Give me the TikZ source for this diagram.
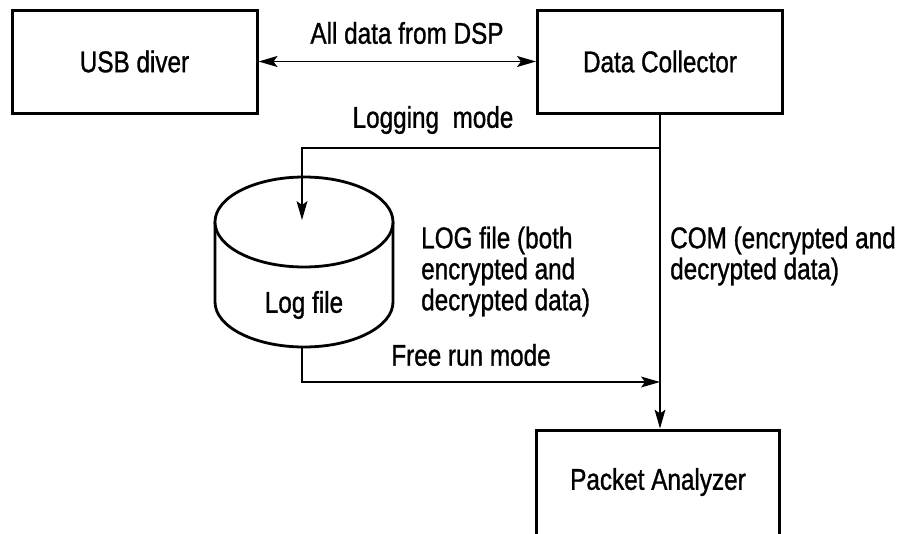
\documentclass[tikz,border=0pt]{standalone}
\usepackage{fontspec}
\setmainfont{Liberation Sans}[FakeStretch=0.81,FakeBold=1.0]
\usetikzlibrary{arrows.meta}
\tikzset{
  lbl/.style={font=\fontsize{30}{31}\selectfont, inner sep=0pt},
  boxnode/.style={draw, line width=3pt, minimum width=245pt, minimum height=103pt, font=\fontsize{30}{31}\selectfont},
  conn/.style={line width=1.8pt},
  headend/.style={-{Stealth[length=19pt,width=11pt,inset=4pt,line width=0pt]}},
  headboth/.style={{Stealth[length=19pt,width=11pt,inset=4pt]}-{Stealth[length=19pt,width=11pt,inset=4pt]}},
  cyl/.style={line width=2.8pt, fill=white}
}
\begin{document}
\begin{tikzpicture}[x=1pt,y=-1pt]
\useasboundingbox (0,0) rectangle (905,533);
\clip (0,0) rectangle (905,533);
\node[boxnode] (usb) at (134.5,61.5) {USB diver};
\node[boxnode] (dc) at (660,61.5) {Data Collector};
\node[boxnode, minimum width=243pt, minimum height=110pt] (pa) at (658,485) {};
\node[lbl] (patext) at (658,482) {Packet Analyzer};
% cylinder
\draw[cyl] (215,222) -- (215,302) arc[start angle=180,end angle=360,x radius=89pt,y radius=45pt] -- (393,222);
\draw[cyl] (304,222) ellipse [x radius=89pt, y radius=45pt];
\node[lbl] (logfile) at (304,305) {Log file};
\coordinate (cyltop) at (302,220);
\coordinate (cylbot) at (302,347);
\coordinate (j1) at (660,148);
\coordinate (j2) at (660,382);
% connectors
\draw[conn,headboth] (usb.east) -- (dc.west);
\draw[conn,headend] (dc.south) -- (dc.south |- pa.north);
\draw[conn,headend] (j1) -| (cyltop);
\draw[conn,headend] (cylbot) |- (j2);
% labels
\node[lbl] (l1) at (407,33) {All data from DSP};
\node[lbl] (l2) at (433,120) {Logging\ \ mode};
\node[lbl] (l3) at (471,355) {Free run mode};
\node[lbl, anchor=west, align=left] (l4) at (421,271.5) {LOG file (both\\encrypted and\\decrypted data)};
\node[lbl, anchor=west, align=left] (l5) at (670,256) {COM (encrypted and\\decrypted data)};
\end{tikzpicture}
\end{document}
